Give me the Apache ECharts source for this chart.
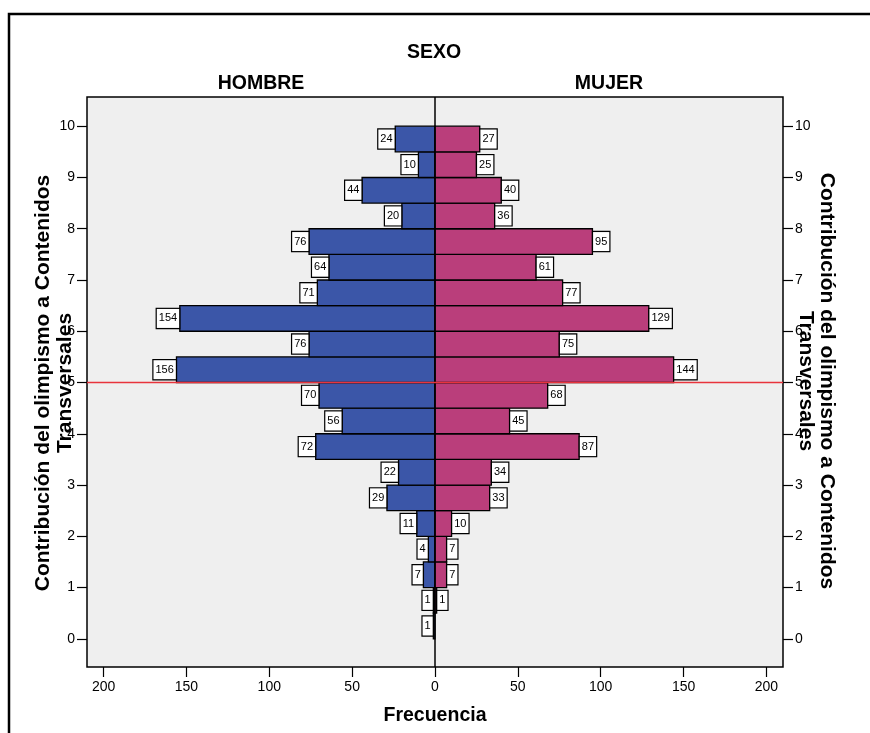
<!DOCTYPE html>
<html>
<head>
<meta charset="utf-8">
<script src="https://cdn.jsdelivr.net/npm/echarts@6/dist/echarts.min.js"></script>
<style>html,body{margin:0;padding:0;background:#fff;}#c{width:870px;height:733px;}</style>
</head>
<body>
<div id="c"></div>
<script>
// Bins (lower edge), half-unit wide, bottom to top
var binStarts = [0,0.5,1,1.5,2,2.5,3,3.5,4,4.5,5,5.5,6,6.5,7,7.5,8,8.5,9,9.5];
var hombre = [1,1,7,4,11,29,22,72,56,70,156,76,154,71,64,76,20,44,10,24];
var mujer  = [null,1,7,7,10,33,34,87,45,68,144,75,129,77,61,95,36,40,25,27];
var xTicks = [-200,-150,-100,-50,0,50,100,150,200];
var yTicks = [0,1,2,3,4,5,6,7,8,9,10];
var refLine = 5;
var yName1 = 'Contribución del olimpismo a Contenidos';
var yName2 = 'Transversales';

var FONT = '"Liberation Sans", Arial, sans-serif';
var BLUE = '#3b56a8';
var PINK = '#ba3e7b';

function toData(arr){
  var out = [];
  for (var i = 0; i < arr.length; i++) if (arr[i] != null) out.push([binStarts[i], arr[i]]);
  return out;
}

function makeRender(sign, color){
  return function(params, api){
    var lo = api.value(0), v = api.value(1);
    var a = api.coord([0, lo + 0.5]);
    var b = api.coord([sign * v, lo]);
    var x = Math.min(a[0], b[0]), w = Math.abs(b[0] - a[0]);
    var y = Math.min(a[1], b[1]), h = Math.abs(b[1] - a[1]);
    return {
      type: 'rect',
      shape: {x: x, y: y, width: w, height: h},
      style: {fill: color, stroke: '#000', lineWidth: 1.3},
      textContent: {
        style: {
          text: String(v), fontSize: 11, fontFamily: FONT, fill: '#000', lineHeight: 12,
          backgroundColor: '#fff', borderColor: '#000', borderWidth: 1.2,
          padding: [4, 2, 3, 2]
        }
      },
      textConfig: {position: sign < 0 ? 'left' : 'right', distance: 0}
    };
  };
}

var chart = echarts.init(document.getElementById('c'), null, {renderer: 'canvas'});
function yAxisOf(pos){
  return {
    type: 'value', min: -0.55, max: 10.57, position: pos,
    splitLine: {show: false},
    axisLine: {show: false, onZero: false},
    axisTick: {show: true, length: 10, lineStyle: {color: '#000', width: 1.2}, customValues: yTicks},
    axisLabel: {show: true, color: '#000', fontSize: 14, fontFamily: FONT, margin: 12, customValues: yTicks}
  };
}
chart.setOption({
  animation: false,
  backgroundColor: '#fff',
  grid: {
    left: 87, right: 87, top: 97, bottom: 66,
    show: true, backgroundColor: '#efefef', borderColor: '#000', borderWidth: 1.5
  },
  xAxis: {
    type: 'value', min: -210, max: 210,
    splitLine: {show: false},
    axisLine: {show: false, onZero: false},
    axisTick: {show: true, length: 10, lineStyle: {color: '#000', width: 1.2}, customValues: xTicks},
    axisLabel: {color: '#000', fontSize: 14, fontFamily: FONT, margin: 13, customValues: xTicks,
      formatter: function(v){ return String(Math.abs(v)); }}
  },
  yAxis: [yAxisOf('left'), yAxisOf('right')],
  series: [
    {
      type: 'custom', name: 'HOMBRE', renderItem: makeRender(-1, BLUE),
      data: toData(hombre), encode: {x: 1, y: 0}, z: 2
    },
    {
      type: 'custom', name: 'MUJER', renderItem: makeRender(1, PINK),
      data: toData(mujer), encode: {x: 1, y: 0}, z: 2,
      markLine: {
        silent: true, symbol: 'none', z: 5,
        label: {show: false},
        data: [
          {xAxis: 0, lineStyle: {color: '#000', width: 1.5, type: 'solid'}},
          {yAxis: refLine, lineStyle: {color: '#e8343c', width: 1.3, type: 'solid'}}
        ]
      }
    }
  ],
  graphic: [
    {type: 'rect', shape: {x: 9, y: 14, width: 900, height: 800}, style: {fill: 'none', stroke: '#000', lineWidth: 2.5}, silent: true},
    {type: 'text', x: 434, y: 53, style: {text: 'SEXO', font: 'bold 19.5px ' + FONT, fill: '#000', textAlign: 'center', textVerticalAlign: 'middle'}},
    {type: 'text', x: 261, y: 84, style: {text: 'HOMBRE', font: 'bold 19.5px ' + FONT, fill: '#000', textAlign: 'center', textVerticalAlign: 'middle'}},
    {type: 'text', x: 609, y: 84, style: {text: 'MUJER', font: 'bold 19.5px ' + FONT, fill: '#000', textAlign: 'center', textVerticalAlign: 'middle'}},
    {type: 'text', x: 435, y: 716, style: {text: 'Frecuencia', font: 'bold 19.5px ' + FONT, fill: '#000', textAlign: 'center', textVerticalAlign: 'middle'}},
    {type: 'text', x: 54, y: 383, rotation: Math.PI / 2,
      style: {text: yName1 + '\n' + yName2, font: 'bold 21px ' + FONT, lineHeight: 22, fill: '#000', textAlign: 'center', textVerticalAlign: 'middle'}},
    {type: 'text', x: 816, y: 381, rotation: -Math.PI / 2,
      style: {text: yName1 + '\n' + yName2, font: 'bold 21px ' + FONT, lineHeight: 21, fill: '#000', textAlign: 'center', textVerticalAlign: 'middle'}}
  ]
});
</script>
</body>
</html>
